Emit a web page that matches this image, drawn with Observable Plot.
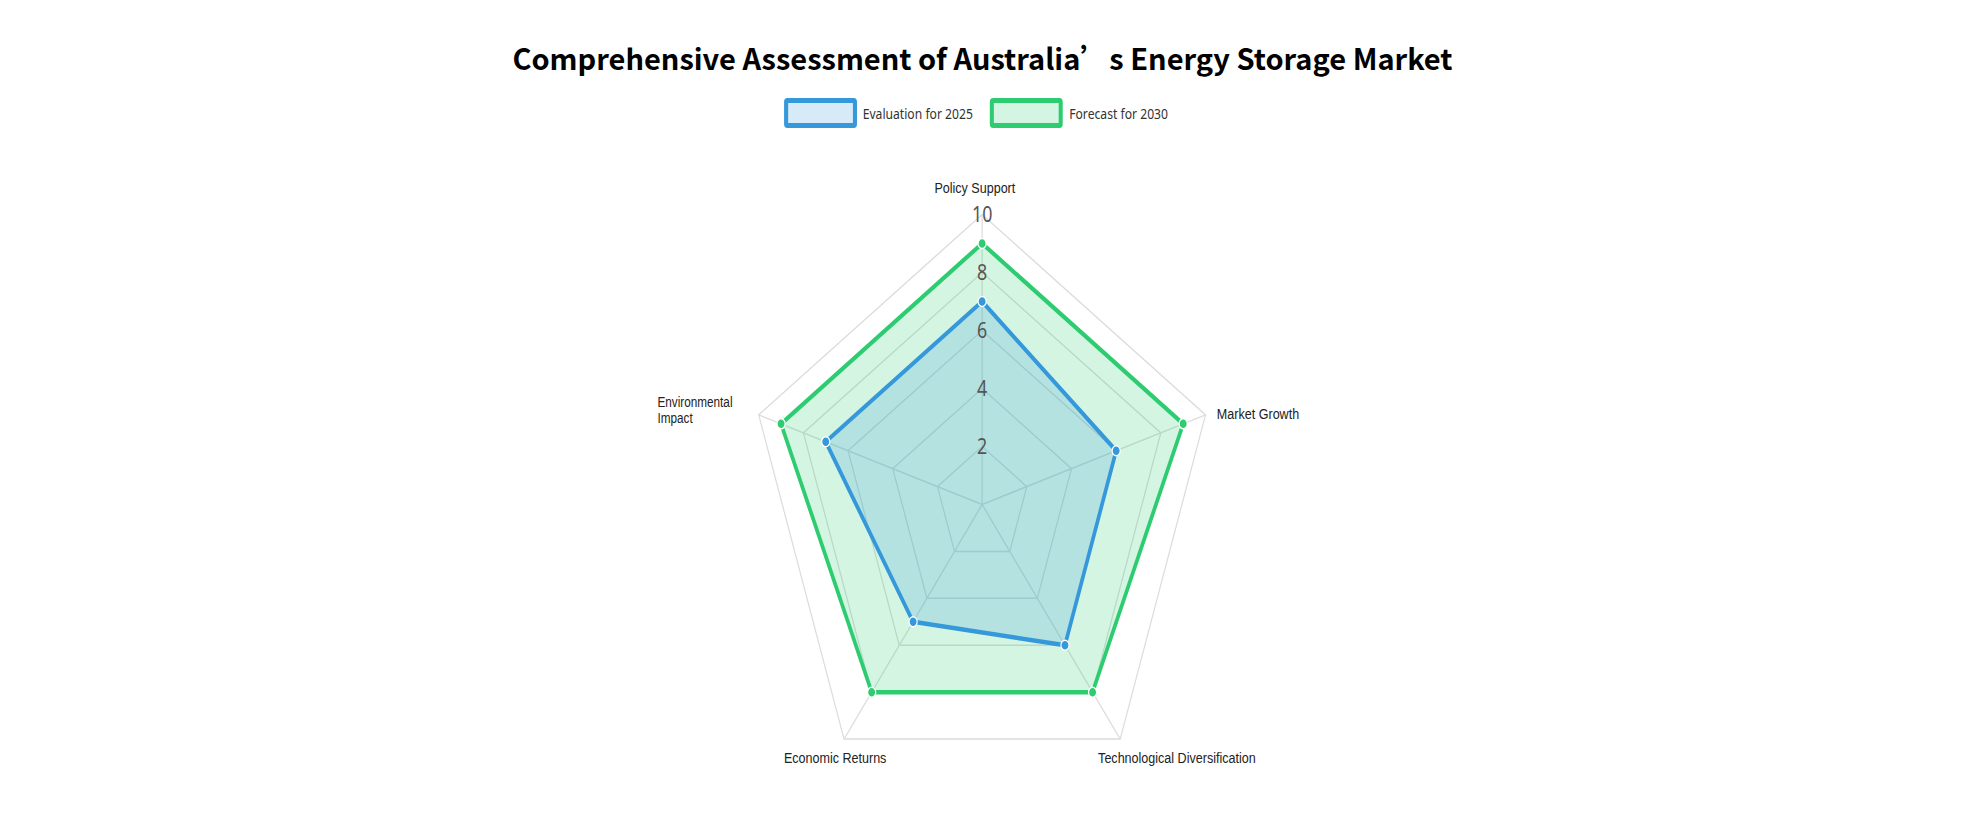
<!DOCTYPE html>
<html>
<head>
<meta charset="utf-8">
<script src="https://cdn.jsdelivr.net/npm/d3@7"></script>
<script src="https://cdn.jsdelivr.net/npm/@observablehq/plot@0.6"></script>
<style>
  html, body { margin: 0; padding: 0; background: #fff; overflow: hidden; }
  body { width: 1965px; height: 829px; position: relative; font-family: "Noto Sans", sans-serif; }
  #title { position: absolute; left: 0; top: 37px; width: 1965px; text-align: center;
           font-family: "Noto Sans CJK SC", "Noto Sans", sans-serif; font-weight: 700;
           font-size: 29px; line-height: 40px; color: #000; white-space: nowrap; }
  #wrap { position: absolute; left: 0; top: 0; width: 2426px; height: 829px;
          transform: scaleX(0.81); transform-origin: 0 0; }
  .lg-box { position: absolute; box-sizing: border-box; border: 5px solid; border-radius: 4px; height: 30px; width: 90px; top: 98px; }
  .lg-text { position: absolute; top: 103px; font-size: 15px; line-height: 20px; color: #333; white-space: nowrap; }
  #chart { position: absolute; left: 0; top: 140px; width: 2426px; }
</style>
</head>
<body>
<div id="title"></div>
<div id="wrap">
  <div id="legend"></div>
  <div id="chart"></div>
</div>
<script>
// ---- data ----
const chartTitle = "Comprehensive Assessment of Australia’s Energy Storage Market";
const indicators = ["Policy Support", "Market Growth", "Technological Diversification", "Economic Returns", "Environmental Impact"];
const maxValue = 10;
const ringValues = [2, 4, 6, 8, 10];
const seriesNames = ["Evaluation for 2025", "Forecast for 2030"];
const values2025 = [7, 6, 6, 5, 7];
const values2030 = [9, 9, 8, 8, 9];
const seriesColors = ["#3498db", "#2ecc71"];
const seriesFills = ["#d6eaf8", "#d5f5e3"];

// ---- layout (virtual px, before horizontal compression) ----
const W = 2426, H = 660, CX = 1212, CY = 364, UNIT = 29;
const labelLayout = [
  {dx: -9, dy: -27, anchor: "middle", wrap: false},
  {dx: 14, dy: -1, anchor: "start", wrap: false},
  {dx: 70, dy: 18, anchor: "middle", wrap: false},
  {dx: -11, dy: 18, anchor: "middle", wrap: false},
  {dx: -125, dy: -5, anchor: "start", wrap: true}
];
const legendLayout = [
  {box: 968, text: 1065},
  {box: 1222, text: 1320}
];

document.getElementById("title").textContent = chartTitle;

// legend
const legend = document.getElementById("legend");
seriesNames.forEach((name, i) => {
  const b = document.createElement("div");
  b.className = "lg-box";
  b.style.left = legendLayout[i].box + "px";
  b.style.borderColor = seriesColors[i];
  b.style.background = seriesFills[i];
  legend.appendChild(b);
  const t = document.createElement("div");
  t.className = "lg-text";
  t.style.left = legendLayout[i].text + "px";
  t.textContent = name;
  legend.appendChild(t);
});

// geometry helpers
const n = indicators.length;
const angle = i => 2 * Math.PI * i / n;
const toPoint = (i, v) => ({x: v * Math.sin(angle(i)), y: v * Math.cos(angle(i))});

const ringPoints = ringValues.flatMap(r => indicators.map((name, i) => ({ring: r, ...toPoint(i, r)})));
const spokes = indicators.map((name, i) => ({name, ...toPoint(i, maxValue)}));
const seriesPoints = [values2025, values2030].map((vals, s) =>
  vals.map((v, i) => ({series: seriesNames[s], name: indicators[i], value: v, ...toPoint(i, v)})));

const gridColor = "#dcdcdc";

const marks = [
  Plot.line(ringPoints, {x: "x", y: "y", z: "ring", curve: "linear-closed", stroke: gridColor, strokeWidth: 1.5}),
  Plot.link(spokes, {x1: () => 0, y1: () => 0, x2: "x", y2: "y", stroke: gridColor, strokeWidth: 1.5})
];
// draw 2030 first, then 2025 on top
[1, 0].forEach(s => {
  marks.push(Plot.line(seriesPoints[s], {
    x: "x", y: "y", curve: "linear-closed",
    fill: seriesColors[s], fillOpacity: 0.2,
    stroke: seriesColors[s], strokeWidth: 4.5, strokeLinejoin: "round"
  }));
});
[1, 0].forEach(s => {
  marks.push(Plot.dot(seriesPoints[s], {
    x: "x", y: "y", r: 5, fill: seriesColors[s], stroke: "white", strokeWidth: 1.5
  }));
});
// radial tick labels along the top axis
marks.push(Plot.text(ringValues, {
  x: () => 0, y: d => d, text: d => String(d),
  fontSize: 22, fill: "#555", textAnchor: "middle", lineAnchor: "middle"
}));
// indicator names
spokes.forEach((sp, i) => {
  const L = labelLayout[i];
  marks.push(Plot.text([sp], {
    x: "x", y: "y",
    text: d => L.wrap ? d.name.split(" ").join("\n") : d.name,
    dx: L.dx, dy: L.dy, textAnchor: L.anchor, lineAnchor: "middle",
    lineHeight: 1.13, fontSize: L.wrap ? 14.5 : 15.5, fill: "#222",
    fontFamily: "Liberation Sans"
  }));
});

const plot = Plot.plot({
  width: W,
  height: H,
  margin: 0,
  x: {type: "linear", domain: [-CX / UNIT, (W - CX) / UNIT], range: [0, W], axis: null},
  y: {type: "linear", domain: [-(H - CY) / UNIT, CY / UNIT], range: [H, 0], axis: null},
  style: {maxWidth: "none", background: "transparent", overflow: "visible", fontFamily: "Noto Sans"},
  marks
});
document.getElementById("chart").appendChild(plot);
</script>
</body>
</html>
